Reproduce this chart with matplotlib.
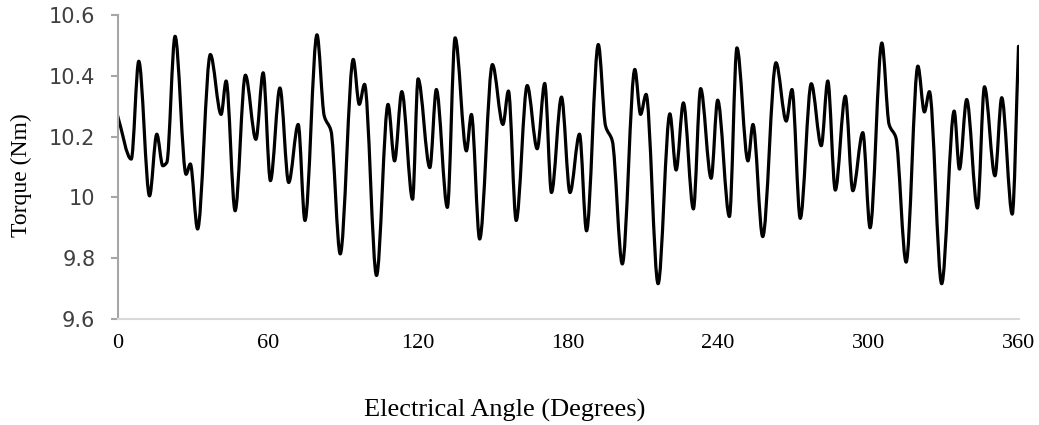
import numpy as np
import matplotlib
matplotlib.use('Agg')
import matplotlib.pyplot as plt
from matplotlib.path import Path
from matplotlib.patches import PathPatch

# Puntos (extremos y hombros de la curva)
angulo = [0, 5.5, 8.5, 12.8, 15.7, 18.1, 19.7, 23.0, 27.4, 29.1, 32.0, 37.1,
          41.4, 43.4, 47.0, 51.1, 55.3, 58.2, 61.1, 64.9, 68.4, 72.2, 74.9,
          79.7, 82.6, 85.3, 89.0, 94.2, 96.6, 98.7, 103.5, 108.1, 110.7,
          113.6, 117.9, 120.1, 124.8, 127.4, 131.8, 134.9, 139.4, 141.4,
          144.7, 149.8, 154.0, 156.2, 159.3, 163.7, 167.7, 170.7, 173.4,
          177.4, 180.8, 184.6, 187.4, 192.1, 195.0, 197.7, 201.7, 206.7,
          209.0, 211.2, 216.0, 220.7, 223.2, 226.1, 230.1, 233.0, 237.2,
          239.8, 244.5, 247.5, 251.9, 253.9, 257.8, 263.1, 267.2, 269.5,
          272.8, 277.2, 281.2, 283.8, 286.8, 290.8, 293.8, 297.8, 300.7,
          305.4, 308.3, 311.0, 315.1, 319.8, 322.4, 324.4, 329.3, 334.3,
          336.4, 339.3, 343.6, 346.4, 350.6, 353.3, 357.5, 360]
torque = [10.27, 10.126, 10.448, 10.005, 10.208, 10.104, 10.115, 10.53,
          10.076, 10.11, 9.896, 10.47, 10.273, 10.383, 9.956, 10.402, 10.191,
          10.41, 10.055, 10.36, 10.049, 10.24, 9.924, 10.535, 10.268, 10.219,
          9.814, 10.454, 10.306, 10.372, 9.743, 10.306, 10.12, 10.348, 9.994,
          10.39, 10.098, 10.355, 9.967, 10.525, 10.153, 10.273, 9.863, 10.437,
          10.24, 10.35, 9.924, 10.368, 10.16, 10.375, 10.016, 10.33, 10.016,
          10.208, 9.89, 10.503, 10.235, 10.186, 9.781, 10.421, 10.273, 10.339,
          9.716, 10.275, 10.09, 10.311, 9.962, 10.358, 10.063, 10.32, 9.937,
          10.492, 10.12, 10.24, 9.871, 10.443, 10.251, 10.355, 9.931, 10.374,
          10.17, 10.383, 10.024, 10.333, 10.022, 10.213, 9.9, 10.508, 10.24,
          10.197, 9.787, 10.432, 10.281, 10.348, 9.716, 10.284, 10.093, 10.322,
          9.965, 10.364, 10.071, 10.328, 9.945, 10.497]

xticks = [0, 60, 120, 180, 240, 300, 360]
yticks = [9.6, 9.8, 10, 10.2, 10.4, 10.6]
ytick_labels = ['9.6', '9.8', '10', '10.2', '10.4', '10.6']


# Linea suavizada (estilo Excel) con curvas de Bezier entre los puntos
def pendientes(x, y):
    h = np.diff(x)
    d = np.diff(y) / h
    m = np.zeros_like(y)
    for k in range(1, len(x) - 1):
        if d[k - 1] * d[k] > 0:
            w1 = 2 * h[k] + h[k - 1]
            w2 = h[k] + 2 * h[k - 1]
            m[k] = (w1 + w2) / (w1 / d[k - 1] + w2 / d[k])
    m[0] = d[0]
    m[-1] = d[-1]
    return m


x = np.array(angulo, dtype=float)
y = np.array(torque, dtype=float)
m = pendientes(x, y)
verts = [(x[0], y[0])]
codes = [Path.MOVETO]
for i in range(len(x) - 1):
    h = x[i + 1] - x[i]
    verts += [(x[i] + h / 3, y[i] + m[i] * h / 3),
              (x[i + 1] - h / 3, y[i + 1] - m[i + 1] * h / 3),
              (x[i + 1], y[i + 1])]
    codes += [Path.CURVE4] * 3

fig = plt.figure(figsize=(10.39, 4.25), dpi=100)
ax = fig.add_axes([117.5 / 1039, 1 - 319 / 425, 901 / 1039, 304 / 425])
ax.add_patch(PathPatch(Path(verts, codes), facecolor='none',
                       edgecolor='black', lw=2.3, capstyle='round',
                       joinstyle='round'))

ax.set_xlim(0, 360)
ax.set_ylim(9.6, 10.6)
ax.set_xticks(xticks)
ax.set_xticklabels([str(t) for t in xticks], family='Liberation Serif',
                   fontsize=16)
ax.set_yticks(yticks)
ax.set_yticklabels(ytick_labels, family='DejaVu Sans', fontsize=15,
                   color='#404040')

for s in ['top', 'right']:
    ax.spines[s].set_visible(False)
ax.spines['left'].set_color('#a6a6a6')
ax.spines['left'].set_linewidth(1.5)
ax.spines['bottom'].set_color('#d9d9d9')
ax.spines['bottom'].set_linewidth(1.5)
ax.tick_params(axis='y', direction='out', length=5, width=1.5,
               color='#a6a6a6', pad=11)
ax.tick_params(axis='x', length=0, pad=11)

ax.set_xlabel('Electrical Angle (Degrees)', family='Liberation Serif',
              fontsize=19, labelpad=33, x=0.43)
ax.set_ylabel('Torque (Nm)', family='Liberation Serif', fontsize=17,
              labelpad=12, y=0.474)

fig.savefig('out.png', dpi=100)
